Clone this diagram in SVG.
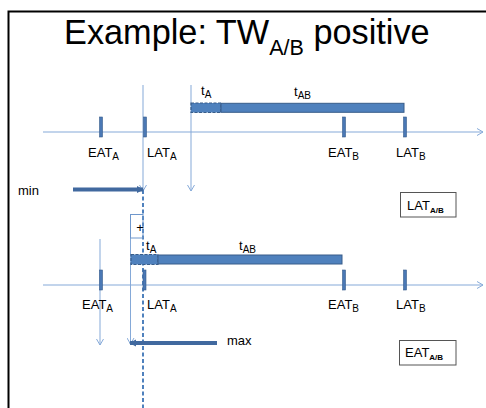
<svg xmlns="http://www.w3.org/2000/svg" width="486" height="408" viewBox="0 0 486 408">
<defs>
<style>
text{font-family:"Liberation Sans",Arial,sans-serif;fill:#000}
.lbl{font-size:13px}
.sub{font-size:10px}
.axis{stroke:#85a9d8;stroke-width:1;fill:none}
.thin{stroke:#85a9d8;stroke-width:1;fill:none}
.tick{fill:#4a78b5;stroke:#385d8a;stroke-width:0.6}
.bar{fill:#4f81bd;stroke:#385d8a;stroke-width:1}
.dbar{fill:#4f81bd;stroke:#385d8a;stroke-width:1.2;stroke-dasharray:3 1.5}
.thick{stroke:#41699f;stroke-width:4;fill:none}
.box{fill:#fff;stroke:#555;stroke-width:1}
</style>
<marker id="open" markerWidth="8" markerHeight="8" refX="7" refY="4" orient="auto" markerUnits="userSpaceOnUse">
<path d="M1,0.5 L7,4 L1,7.5" fill="none" stroke="#85a9d8" stroke-width="1"/>
</marker>
<marker id="solid" markerWidth="8" markerHeight="8" refX="6" refY="4" orient="auto" markerUnits="userSpaceOnUse">
<path d="M0,0.5 L7,4 L0,7.5 Z" fill="#41699f"/>
</marker>
</defs>
<rect width="486" height="408" fill="#fff"/>
<path d="M8.5,408 V11.5 H486" fill="none" stroke="#000" stroke-width="2"/>
<g id="title">
<text x="64" y="44" font-size="34.3">Example: TW<tspan font-size="21.5" dy="11">A/B</tspan><tspan dy="-11"> positive</tspan></text>
</g>
<g id="connectors">
<line class="axis" x1="43" y1="132" x2="483" y2="132" marker-end="url(#open)"/>
<line class="axis" x1="43" y1="285" x2="483" y2="285" marker-end="url(#open)"/>
<line class="thin" x1="143" y1="85" x2="143" y2="191" marker-end="url(#open)"/>
<line class="thin" x1="191" y1="85" x2="191" y2="191" marker-end="url(#open)"/>
<line class="thin" x1="100" y1="239" x2="100" y2="345" marker-end="url(#open)"/>
<line class="thin" x1="130.5" y1="238" x2="130.5" y2="344" marker-end="url(#open)"/>
<line x1="143" y1="190" x2="143" y2="408" stroke="#4f81bd" stroke-width="2" stroke-dasharray="4 2.5"/>
<line class="thick" x1="73" y1="189.5" x2="143" y2="189.5" marker-end="url(#solid)"/>
<line class="thick" x1="217" y1="343" x2="130" y2="343" marker-end="url(#solid)"/>
</g>
<g id="timeline1">
<rect class="tick" x="99.5" y="117" width="3" height="20"/>
<rect class="tick" x="143.5" y="117" width="3" height="20"/>
<rect class="tick" x="342.5" y="117" width="3" height="20"/>
<rect class="tick" x="403.5" y="117" width="3" height="20"/>
<text class="lbl" x="88" y="157">EAT<tspan class="sub" dy="3">A</tspan></text>
<text class="lbl" x="147" y="157">LAT<tspan class="sub" dy="3">A</tspan></text>
<text class="lbl" x="328" y="157">EAT<tspan class="sub" dy="3">B</tspan></text>
<text class="lbl" x="396" y="157">LAT<tspan class="sub" dy="3">B</tspan></text>
</g>
<g id="taskA1">
<rect class="dbar" x="191" y="103" width="30" height="9.5"/>
<text class="lbl" x="201" y="95">t<tspan class="sub" dy="3">A</tspan></text>
</g>
<g id="taskAB1">
<rect class="bar" x="221" y="103.3" width="183" height="9"/>
<text class="lbl" x="294" y="96">t<tspan class="sub" dy="3">AB</tspan></text>
</g>
<g id="min">
<text class="lbl" x="18" y="195">min</text>
</g>
<g id="plus">
<rect x="130.5" y="214.5" width="12.5" height="23.5" fill="none" stroke="#6f97cc" stroke-width="1"/>
<text x="136.3" y="231.5" font-size="13">+</text>
</g>
<g id="timeline2">
<rect class="tick" x="99.5" y="270" width="3" height="20"/>
<rect class="tick" x="143" y="270" width="3" height="20"/>
<rect class="tick" x="342.5" y="270" width="3" height="20"/>
<rect class="tick" x="403.5" y="270" width="3" height="20"/>
<text class="lbl" x="82" y="309">EAT<tspan class="sub" dy="3">A</tspan></text>
<text class="lbl" x="147" y="309">LAT<tspan class="sub" dy="3">A</tspan></text>
<text class="lbl" x="328" y="309">EAT<tspan class="sub" dy="3">B</tspan></text>
<text class="lbl" x="396" y="309">LAT<tspan class="sub" dy="3">B</tspan></text>
</g>
<g id="taskA2">
<rect class="dbar" x="131" y="254.5" width="27" height="10"/>
<text class="lbl" x="146" y="249.5">t<tspan class="sub" dy="3">A</tspan></text>
</g>
<g id="taskAB2">
<rect class="bar" x="158" y="255" width="184" height="9"/>
<text class="lbl" x="239" y="249.5">t<tspan class="sub" dy="3">AB</tspan></text>
</g>
<g id="max">
<text class="lbl" x="227" y="345">max</text>
</g>
<g id="latAB">
<rect class="box" x="400.5" y="192.5" width="55.5" height="24.5"/>
<text class="lbl" x="407" y="210">LAT<tspan font-size="8" font-weight="bold" dy="3">A/B</tspan></text>
</g>
<g id="eatAB">
<rect class="box" x="399.5" y="340.5" width="56.5" height="24.5"/>
<text class="lbl" x="405" y="357">EAT<tspan font-size="8" font-weight="bold" dy="3">A/B</tspan></text>
</g>
</svg>
